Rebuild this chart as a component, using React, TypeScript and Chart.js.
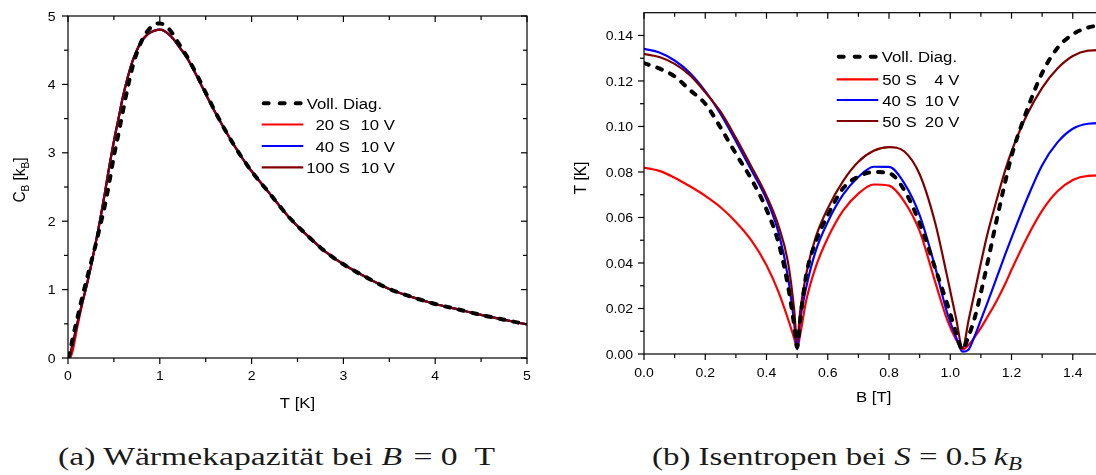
import React, { useEffect, useLayoutEffect, useRef } from "react";
import { Chart, registerables } from "chart.js";

Chart.register(...registerables);

// ---------------- Left chart: heat capacity ----------------
const tLeft = [0, 0.02, 0.05, 0.1, 0.15, 0.2, 0.25, 0.3, 0.35, 0.4,
  0.45, 0.5, 0.55, 0.6, 0.65, 0.7, 0.75, 0.8, 0.85, 0.9, 0.95,
  1.0, 1.05, 1.1, 1.15, 1.2,
  1.3, 1.4, 1.5, 1.6, 1.7, 1.8, 1.9, 2.0,
  2.2, 2.4, 2.6, 2.8, 3.0,
  3.25, 3.5, 3.75, 4.0, 4.25, 4.5, 4.75, 5.0];

const cbFull = [0, 0.08, 0.28, 0.57, 0.86, 1.13, 1.39, 1.65, 1.93, 2.22,
  2.57, 2.95, 3.28, 3.62, 3.95, 4.24, 4.46, 4.63, 4.75, 4.83, 4.88,
  4.89, 4.87, 4.81, 4.72, 4.61,
  4.4, 4.15, 3.88, 3.61, 3.36, 3.13, 2.92, 2.73,
  2.4, 2.07, 1.8, 1.56, 1.37,
  1.18, 1.01, 0.89, 0.79, 0.71, 0.63, 0.56, 0.49];

const cb20 = [0, 0.0, 0.1, 0.44, 0.76, 1.04, 1.34, 1.67, 2.02, 2.4,
  2.8, 3.17, 3.5, 3.83, 4.1, 4.33, 4.5, 4.63, 4.71, 4.76, 4.79,
  4.8, 4.78, 4.73, 4.66, 4.57,
  4.38, 4.13, 3.86, 3.6, 3.36, 3.13, 2.92, 2.73,
  2.4, 2.07, 1.8, 1.56, 1.37,
  1.18, 1.01, 0.89, 0.79, 0.71, 0.63, 0.56, 0.49];

const cb40 = [0, 0.04, 0.2, 0.5, 0.78, 1.04, 1.34, 1.67, 2.02, 2.4,
  2.8, 3.17, 3.5, 3.83, 4.1, 4.33, 4.5, 4.63, 4.71, 4.76, 4.79,
  4.8, 4.78, 4.73, 4.66, 4.57,
  4.38, 4.13, 3.86, 3.6, 3.36, 3.13, 2.92, 2.73,
  2.4, 2.07, 1.8, 1.56, 1.37,
  1.18, 1.01, 0.89, 0.79, 0.71, 0.63, 0.56, 0.49];

const cb100 = [0, 0.04, 0.2, 0.5, 0.78, 1.04, 1.34, 1.67, 2.02, 2.4,
  2.8, 3.17, 3.5, 3.83, 4.1, 4.33, 4.5, 4.63, 4.71, 4.76, 4.79,
  4.8, 4.78, 4.73, 4.66, 4.57,
  4.38, 4.13, 3.86, 3.6, 3.36, 3.13, 2.92, 2.73,
  2.4, 2.07, 1.8, 1.56, 1.37,
  1.18, 1.01, 0.89, 0.79, 0.71, 0.63, 0.56, 0.49];

const leftLegend = [["Voll. Diag."], ["20 S", "10 V"], ["40 S", "10 V"], ["100 S", "10 V"]];
const leftXTicks = [0, 1, 2, 3, 4, 5];
const leftXMinor = [0.5, 1.5, 2.5, 3.5, 4.5];
const leftYTicks = [0, 1, 2, 3, 4, 5];
const leftYMinor = [0.5, 1.5, 2.5, 3.5, 4.5];

// ---------------- Right chart: isentropes ----------------
const bRight = [0, 0.05, 0.1, 0.15, 0.2, 0.25, 0.3, 0.35, 0.4,
  0.44, 0.47, 0.49, 0.5, 0.51, 0.53, 0.56,
  0.6, 0.65, 0.7, 0.75, 0.8, 0.85, 0.9, 0.95,
  0.99, 1.02, 1.04, 1.06, 1.08, 1.1, 1.12, 1.15, 1.18, 1.2,
  1.25, 1.3, 1.35, 1.4, 1.45, 1.5];

const tFull = [0.1278, 0.1255, 0.122, 0.116, 0.11, 0.0995, 0.088, 0.077, 0.0635,
  0.0485, 0.03, 0.013, 0.003, 0.015, 0.035, 0.049,
  0.061, 0.0728, 0.078, 0.08, 0.0795, 0.072, 0.0575, 0.038,
  0.022, 0.009, 0.002, 0.008, 0.016, 0.027, 0.039, 0.058, 0.076, 0.087,
  0.107, 0.1235, 0.1345, 0.1405, 0.1435, 0.1446];

const t50s4v = [0.0819, 0.0805, 0.0775, 0.0737, 0.0695, 0.0645, 0.058, 0.05, 0.039,
  0.027, 0.0155, 0.007, 0.0025, 0.0085, 0.0237, 0.038,
  0.051, 0.063, 0.0705, 0.0745, 0.074, 0.067, 0.054, 0.032,
  0.015, 0.006, 0.002, 0.004, 0.0075, 0.0115, 0.016, 0.023, 0.031, 0.037,
  0.051, 0.063, 0.0715, 0.0765, 0.0783, 0.0785];

const t40s10v = [0.1341, 0.1325, 0.129, 0.1235, 0.1155, 0.1055, 0.0935, 0.081, 0.068,
  0.053, 0.034, 0.014, 0.002, 0.015, 0.0295, 0.045,
  0.058, 0.07, 0.0778, 0.0823, 0.0822, 0.075, 0.061, 0.0385,
  0.018, 0.007, 0.001, 0.002, 0.008, 0.015, 0.022, 0.033, 0.044, 0.051,
  0.068, 0.083, 0.093, 0.099, 0.1012, 0.1015];

const t50s20v = [0.1319, 0.1305, 0.1275, 0.1225, 0.115, 0.1065, 0.095, 0.0825, 0.0695,
  0.056, 0.0405, 0.02, 0.0054, 0.019, 0.0354, 0.051,
  0.064, 0.076, 0.0845, 0.0893, 0.0909, 0.089, 0.079, 0.058,
  0.034, 0.015, 0.0025, 0.015, 0.0275, 0.04, 0.052, 0.067, 0.081, 0.089,
  0.105, 0.117, 0.1255, 0.131, 0.1333, 0.1336];

const rightLegend = [["Voll. Diag."], ["50 S", "4 V"], ["40 S", "10 V"], ["50 S", "20 V"]];
const rightXTicks = [0, 0.2, 0.4, 0.6, 0.8, 1.0, 1.2, 1.4];
const rightXMinor = [0.1, 0.3, 0.5, 0.7, 0.9, 1.1, 1.3];
const rightYTicks = [0, 0.02, 0.04, 0.06, 0.08, 0.1, 0.12, 0.14];
const rightYMinor = [0.01, 0.03, 0.05, 0.07, 0.09, 0.11, 0.13];

// ---------------- drawing helpers ----------------
const SANS = '"Liberation Sans", Arial, sans-serif';
const SX = 1.08;

function drawText(ctx: CanvasRenderingContext2D, s: string, x: number, y: number, size: number, align: CanvasTextAlign = "left") {
  ctx.save();
  ctx.font = `${size}px ${SANS}`;
  ctx.textAlign = align;
  ctx.textBaseline = "alphabetic";
  ctx.translate(x, y);
  ctx.scale(SX, 1);
  ctx.fillStyle = "#000";
  ctx.fillText(s, 0, 0);
  ctx.restore();
}

type Part = { t: string; sub?: boolean };

function drawRotated(ctx: CanvasRenderingContext2D, parts: Part[], bx: number, cy: number, size: number) {
  ctx.save();
  ctx.translate(bx, cy);
  ctx.scale(SX, 1);
  ctx.rotate(-Math.PI / 2);
  ctx.fillStyle = "#000";
  ctx.textBaseline = "alphabetic";
  ctx.textAlign = "left";
  const fonts = parts.map((p) => `${p.sub ? Math.round(size * 0.65) : size}px ${SANS}`);
  const widths = parts.map((p, i) => {
    ctx.font = fonts[i];
    return ctx.measureText(p.t).width;
  });
  const total = widths.reduce((a, b) => a + b, 0);
  let u = -total / 2;
  parts.forEach((p, i) => {
    ctx.font = fonts[i];
    ctx.fillText(p.t, u, p.sub ? size * 0.22 : 0);
    u += widths[i];
  });
  ctx.restore();
}

type Spec = {
  xMajor: number[]; xMinor: number[]; yMajor: number[]; yMinor: number[];
  xFmt: (v: number) => string; yFmt: (v: number) => string;
  xLabelDy: number; yLabelDx: number;
  xTitle: string; xTitleX: number; xTitleY: number;
  yTitle: Part[]; yTitleX: number; yTitleY: number;
  legend: string[][]; legX0: number; legX1: number; legText: number; col1: number; col2: number; rows: number[];
};

const TICK_FS = 13;
const TITLE_FS = 15.5;

function makeDecor(spec: Spec) {
  return {
    id: "decor",
    afterDatasetsDraw(chart: any) {
      const ctx: CanvasRenderingContext2D = chart.ctx;
      const a = chart.chartArea;
      const xs = chart.scales.x;
      const ys = chart.scales.y;
      ctx.save();
      ctx.strokeStyle = "#000";
      ctx.lineWidth = 1.2;
      ctx.setLineDash([]);
      ctx.strokeRect(a.left, a.top, a.right - a.left, a.bottom - a.top);
      const seg = (x1: number, y1: number, x2: number, y2: number) => {
        ctx.beginPath();
        ctx.moveTo(x1, y1);
        ctx.lineTo(x2, y2);
        ctx.stroke();
      };
      const xt: [number[], number][] = [[spec.xMajor, 6], [spec.xMinor, 4]];
      xt.forEach(([vals, len]) => vals.forEach((v) => {
        const px = xs.getPixelForValue(v);
        seg(px, a.bottom, px, a.bottom + len);
        seg(px, a.top, px, a.top + len);
      }));
      const yt: [number[], number][] = [[spec.yMajor, 6], [spec.yMinor, 4]];
      yt.forEach(([vals, len]) => vals.forEach((v) => {
        const py = ys.getPixelForValue(v);
        seg(a.left - len, py, a.left, py);
        seg(a.right - len, py, a.right, py);
      }));
      // tick labels
      spec.xMajor.forEach((v) => drawText(ctx, spec.xFmt(v), xs.getPixelForValue(v), a.bottom + spec.xLabelDy, TICK_FS, "center"));
      spec.yMajor.forEach((v) => drawText(ctx, spec.yFmt(v), a.left - spec.yLabelDx, ys.getPixelForValue(v) + TICK_FS * 0.36, TICK_FS, "right"));
      // titles
      drawText(ctx, spec.xTitle, spec.xTitleX, spec.xTitleY, TITLE_FS, "center");
      drawRotated(ctx, spec.yTitle, spec.yTitleX, spec.yTitleY, TITLE_FS);
      // legend
      const ds = chart.data.datasets;
      spec.legend.forEach((lab, i) => {
        const d = ds[i];
        const y = spec.rows[i];
        ctx.save();
        ctx.strokeStyle = d.borderColor;
        ctx.lineWidth = d.borderWidth;
        if (d.borderDash) {
          ctx.lineCap = "round";
          ctx.setLineDash([5, 11]);
          seg(spec.legX0 + 2, y, spec.legX1 - 2, y);
        } else {
          ctx.lineCap = "butt";
          seg(spec.legX0, y, spec.legX1, y);
        }
        ctx.restore();
        const base = y + TITLE_FS * 0.36;
        if (lab.length === 1) {
          drawText(ctx, lab[0], spec.legText, base, TITLE_FS, "left");
        } else {
          drawText(ctx, lab[0], spec.col1, base, TITLE_FS, "right");
          drawText(ctx, lab[1], spec.col2, base, TITLE_FS, "right");
        }
      });
      ctx.restore();
    },
  };
}

function pts(xs: number[], ys: number[]) {
  return xs.map((x, i) => ({ x, y: ys[i] }));
}

function lineDs(label: string, data: any[], color: string, order: number, dashed = false) {
  return {
    label,
    data,
    borderColor: color,
    backgroundColor: color,
    borderWidth: dashed ? 4 : 2.2,
    borderDash: dashed ? [5, 9] : undefined,
    borderCapStyle: dashed ? "round" : "butt",
    pointRadius: 0,
    fill: false,
    cubicInterpolationMode: "monotone",
    order,
  };
}

function leftConfig(): any {
  const spec: Spec = {
    xMajor: leftXTicks, xMinor: leftXMinor, yMajor: leftYTicks, yMinor: leftYMinor,
    xFmt: (v) => String(v), yFmt: (v) => String(v),
    xLabelDy: 21.7, yLabelDx: 12.5,
    xTitle: "T [K]", xTitleX: 297.5, xTitleY: 408.3,
    yTitle: [{ t: "C" }, { t: "B", sub: true }, { t: " [k" }, { t: "B", sub: true }, { t: "]" }],
    yTitleX: 25, yTitleY: 180,
    legend: leftLegend, legX0: 261.7, legX1: 303.3, legText: 306.7, col1: 350, col2: 395,
    rows: [103.3, 124.5, 146, 167.3],
  };
  return {
    type: "line",
    data: {
      datasets: [
        lineDs(leftLegend[0][0], pts(tLeft, cbFull), "#000000", 0, true),
        lineDs(leftLegend[1].join(" "), pts(tLeft, cb20), "#FF0000", 3),
        lineDs(leftLegend[2].join(" "), pts(tLeft, cb40), "#0000FF", 2),
        lineDs(leftLegend[3].join(" "), pts(tLeft, cb100), "#800000", 1),
      ],
    },
    options: {
      animation: false,
      responsive: false,
      maintainAspectRatio: false,
      layout: { padding: { left: 68, top: 16, right: 33, bottom: 62 } },
      scales: {
        x: { type: "linear", min: 0, max: 5, display: false },
        y: { type: "linear", min: 0, max: 5, display: false },
      },
      plugins: { legend: { display: false }, tooltip: { enabled: false } },
    },
    plugins: [makeDecor(spec)],
  };
}

function rightConfig(): any {
  const spec: Spec = {
    xMajor: rightXTicks, xMinor: rightXMinor, yMajor: rightYTicks, yMinor: rightYMinor,
    xFmt: (v) => v.toFixed(1), yFmt: (v) => v.toFixed(2),
    xLabelDy: 23.3, yLabelDx: 11,
    xTitle: "B [T]", xTitleX: 313.7, xTitleY: 401.7,
    yTitle: [{ t: "T [K]" }], yTitleX: 25.6, yTitleY: 178,
    legend: rightLegend, legX0: 276.7, legX1: 318.3, legText: 321.7, col1: 356.7, col2: 399.3,
    rows: [56.7, 79.3, 100, 121],
  };
  return {
    type: "line",
    data: {
      datasets: [
        lineDs(rightLegend[0][0], pts(bRight, tFull), "#000000", 0, true),
        lineDs(rightLegend[1].join(" "), pts(bRight, t50s4v), "#FF0000", 3),
        lineDs(rightLegend[2].join(" "), pts(bRight, t40s10v), "#0000FF", 2),
        lineDs(rightLegend[3].join(" "), pts(bRight, t50s20v), "#800000", 1),
      ],
    },
    options: {
      animation: false,
      responsive: false,
      maintainAspectRatio: false,
      layout: { padding: { left: 84, top: 12.7, right: 16.6, bottom: 66 } },
      scales: {
        x: { type: "linear", min: 0, max: 1.5, display: false },
        y: { type: "linear", min: 0, max: 0.15, display: false },
      },
      plugins: { legend: { display: false }, tooltip: { enabled: false } },
    },
    plugins: [makeDecor(spec)],
  };
}

function Caption({ left, top, width, children }: { left: number; top: number; width: number; children: React.ReactNode }) {
  const ref = useRef<HTMLSpanElement>(null);
  useLayoutEffect(() => {
    const el = ref.current;
    if (!el) return;
    el.style.transform = "none";
    const w = el.getBoundingClientRect().width;
    if (w > 0) el.style.transform = `scaleX(${width / w})`;
  }, [width]);
  return (
    <div
      style={{
        position: "absolute", left, top, whiteSpace: "nowrap",
        fontFamily: '"Liberation Serif", "Times New Roman", serif',
        fontSize: 26, lineHeight: "26px", color: "#1a1a1a",
      }}
    >
      <span ref={ref} style={{ display: "inline-block", transformOrigin: "0 0" }}>{children}</span>
    </div>
  );
}

export default function App() {
  const leftRef = useRef<HTMLCanvasElement>(null);
  const rightRef = useRef<HTMLCanvasElement>(null);
  useEffect(() => {
    const c1 = new Chart(leftRef.current as HTMLCanvasElement, leftConfig());
    const c2 = new Chart(rightRef.current as HTMLCanvasElement, rightConfig());
    return () => {
      c1.destroy();
      c2.destroy();
    };
  }, []);
  return (
    <div style={{ position: "fixed", left: 0, top: 0, width: 1096, height: 475, overflow: "hidden", background: "#fff" }}>
      <canvas ref={leftRef} width={560} height={420} style={{ position: "absolute", left: 0, top: 0, width: 560, height: 420 }} />
      <canvas ref={rightRef} width={560} height={420} style={{ position: "absolute", left: 560, top: 0, width: 560, height: 420 }} />
      <Caption left={58} top={444} width={437}>
        (a) Wärmekapazität bei <i>B</i>{"\u2004=\u00a00\u2002T"}
      </Caption>
      <Caption left={652} top={444} width={370}>
        (b) Isentropen bei <i>S</i>{"\u00a0=\u00a00.5\u2009"}<i>k</i>
        <sub style={{ fontSize: 18, verticalAlign: "-5px", lineHeight: 0 }}><i>B</i></sub>
      </Caption>
    </div>
  );
}
